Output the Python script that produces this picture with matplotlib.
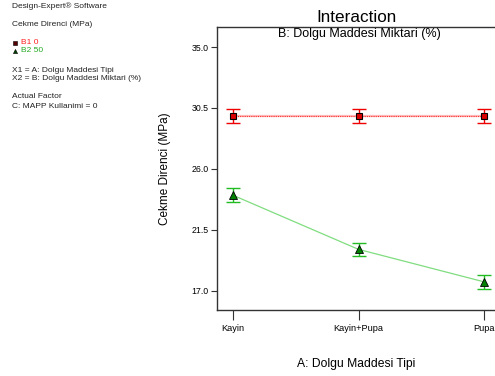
import matplotlib
matplotlib.use("Agg")
import matplotlib.pyplot as plt
from matplotlib.lines import Line2D

plt.rcParams['font.family'] = ['Liberation Sans', 'DejaVu Sans']

categories = ["Kayin", "Kayin+Pupa", "Pupa"]
b1_values = [29.9, 29.9, 29.9]
b1_err = [0.5, 0.5, 0.5]
b2_values = [24.05, 20.05, 17.65]
b2_err = [0.5, 0.5, 0.5]
yticks = [17.0, 21.5, 26.0, 30.5, 35.0]

fig = plt.figure(figsize=(4.95, 3.76), dpi=100)
ax = fig.add_axes([217/495, 66/376, 283/495, 283/376])
x = list(range(len(categories)))

ax.plot(x, b1_values, color='#ff3030', lw=0.8, ls=(0, (1, 1)), zorder=2)
ax.plot(x, b1_values, color='#ffbbbb', lw=1.6, zorder=1)
ax.errorbar(x, b1_values, yerr=b1_err, fmt='none', ecolor='#ee0000', elinewidth=1.0,
            capsize=5, capthick=1.0, zorder=3)
ax.plot(x, b1_values, ls='none', marker='s', ms=5, mfc='#dd0000', mec='black', mew=0.8, zorder=4)

ax.plot(x, b2_values, color='#80dd80', lw=0.9, zorder=2)
ax.errorbar(x, b2_values, yerr=b2_err, fmt='none', ecolor='#22bb22', elinewidth=1.0,
            capsize=5, capthick=1.0, zorder=3)
ax.plot(x, b2_values, ls='none', marker='^', ms=5.5, mfc='#008000', mec='black', mew=0.6, zorder=4)

ax.set_xlim(-0.127, 2.127)
ax.set_ylim(15.57, 36.48)
ax.set_xticks(x)
ax.set_xticklabels(categories, fontsize=6.6)
ax.set_yticks(yticks)
ax.set_yticklabels([f"{v:.1f}" for v in yticks], fontsize=6.3)
for s in ['left', 'bottom', 'top']:
    ax.spines[s].set_color('#333333')
    ax.spines[s].set_linewidth(1.0)
ax.spines['right'].set_visible(False)
ax.tick_params(axis='y', direction='out', length=4, width=0.8, color='#333333', pad=2)
ax.tick_params(axis='x', direction='out', length=7, width=0.8, color='#333333', pad=3)

ax.set_xlabel("A: Dolgu Maddesi Tipi", fontsize=8.7)
ax.xaxis.set_label_coords((356-217)/283, -(358-310)/283)
ax.set_ylabel("Cekme Direnci (MPa)", fontsize=8.5)
ax.yaxis.set_label_coords(-(217-171)/283, 0.5)
fig.text(357/495, 1-17/376, "Interaction", fontsize=12.3, ha='center', va='center')
fig.text(359/495, 1-34/376, "B: Dolgu Maddesi Miktari (%)", fontsize=9, ha='center', va='center')

fs = 6
def ft(xp, yp, s, color='#222222'):
    fig.text(xp/495, 1-yp/376, s, fontsize=fs, color=color, ha='left', va='center')
ft(12, 6, "Design-Expert® Software")
ft(12, 25, "Cekme Direnci (MPa)")
ft(21, 43, "B1 0", color='#ff2020')
ft(21, 51, "B2 50", color='#22aa22')
ft(12, 70, "X1 = A: Dolgu Maddesi Tipi")
ft(12, 78, "X2 = B: Dolgu Maddesi Miktari (%)")
ft(12, 97, "Actual Factor")
ft(12, 106, "C: MAPP Kullanimi = 0")
fig.add_artist(Line2D([15/495], [1-42.5/376], marker='s', ms=2.5, mfc='#550000', mec='black',
                      mew=0.4, transform=fig.transFigure))
fig.add_artist(Line2D([15/495], [1-51/376], marker='^', ms=3, mfc='#004400', mec='black',
                      mew=0.4, transform=fig.transFigure))

fig.savefig("out.png", dpi=100)
